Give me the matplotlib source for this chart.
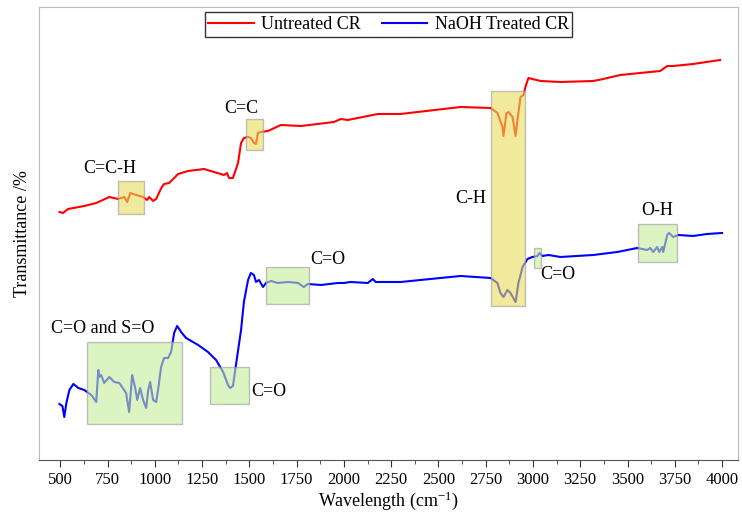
import matplotlib
matplotlib.use('Agg')
import matplotlib.pyplot as plt
from matplotlib.patches import Rectangle
from matplotlib.ticker import MultipleLocator

plt.rcParams['font.family'] = ['Liberation Serif', 'DejaVu Serif']
plt.rcParams['mathtext.fontset'] = 'custom'
plt.rcParams['mathtext.rm'] = 'Liberation Serif'
plt.rcParams['mathtext.default'] = 'regular'

# untreated CR (red)
wn_red = [496, 514, 541, 627, 690, 759, 806, 838, 854, 870, 901, 938, 959, 970, 991, 1007,
          1034, 1049, 1076, 1123, 1176, 1260, 1313, 1366, 1382, 1392, 1413, 1440, 1456, 1471,
          1493, 1508, 1524, 1535, 1545, 1561, 1598, 1667, 1772, 1862, 1947, 1984, 2021, 2073,
          2153, 2179, 2300, 2617, 2776, 2812, 2839, 2844, 2860, 2871, 2892, 2908, 2918, 2934,
          2950, 2960, 2976, 2997, 3040, 3145, 3319, 3372, 3462, 3568, 3620, 3673, 3710, 3742,
          3847, 3990]
t_red = [49.6, 49.4, 50.2, 50.8, 51.4, 52.6, 52.2, 52.6, 51.6, 53.4, 53.0, 52.6, 52.0, 52.6, 51.8, 52.2,
         54.4, 55.2, 55.4, 57.2, 57.8, 58.2, 57.6, 57.0, 57.4, 56.4, 56.4, 59.4, 63.4, 64.4,
         64.6, 64.4, 63.4, 63.2, 65.4, 65.6, 65.8, 67.0, 66.8, 67.2, 67.6, 68.2, 68.0, 68.4,
         69.0, 69.2, 69.2, 70.6, 70.4, 69.4, 66.6, 64.8, 69.4, 69.6, 68.6, 64.8, 68.0, 72.6,
         73.0, 74.6, 76.4, 76.2, 75.8, 75.6, 75.8, 76.2, 77.0, 77.4, 77.6, 77.8, 78.8, 78.8,
         79.2, 80.0]

# NaOH treated CR (blue)
wn_blue = [495, 511, 521, 532, 548, 569, 595, 627, 664, 690, 701, 706, 716, 732, 759, 785,
           812, 848, 864, 880, 896, 907, 922, 938, 954, 965, 975, 991, 1007, 1017, 1033, 1049,
           1070, 1086, 1102, 1118, 1139, 1165, 1229, 1281, 1324, 1361, 1387, 1398, 1413, 1429,
           1456, 1471, 1493, 1508, 1524, 1535, 1551, 1572, 1588, 1614, 1651, 1704, 1757, 1788,
           1809, 1878, 1968, 2000, 2036, 2126, 2153, 2168, 2300, 2617, 2776, 2812, 2828, 2844,
           2865, 2881, 2908, 2923, 2945, 2971, 2997, 3024, 3034, 3050, 3082, 3145, 3319, 3446,
           3552, 3604, 3620, 3636, 3657, 3668, 3684, 3689, 3710, 3720, 3742, 3768, 3847, 3921, 4000]
t_blue = [11.2, 10.8, 8.6, 11.4, 14.0, 15.2, 14.4, 14.0, 13.0, 11.6, 18.0, 16.6, 17.0, 15.4, 16.6, 15.6,
          15.4, 13.4, 9.6, 17.0, 14.4, 12.0, 14.4, 12.0, 10.4, 14.0, 15.6, 12.0, 11.6, 14.0, 18.6, 20.4,
          20.4, 21.6, 25.4, 26.8, 25.6, 24.4, 23.0, 21.6, 20.0, 17.6, 15.0, 14.4, 14.8, 19.0,
          26.0, 31.6, 36.0, 37.4, 37.0, 35.6, 36.0, 34.6, 35.4, 35.8, 35.4, 35.6, 35.4, 34.6,
          35.2, 35.0, 35.4, 35.4, 35.6, 35.4, 36.2, 35.6, 35.6, 36.8, 36.4, 35.4, 33.4, 32.6,
          34.0, 33.4, 31.6, 35.4, 38.6, 40.2, 40.6, 40.8, 41.4, 40.8, 41.0, 40.6, 41.0, 41.6,
          42.4, 42.0, 42.4, 41.6, 42.6, 41.6, 42.6, 41.6, 45.0, 45.4, 44.6, 45.0, 44.8, 45.2, 45.4]

# highlighted bands: (x0, x1, y0, y1)
yellow_boxes = [(806, 943, 49.2, 55.8), (1482, 1572, 62.0, 68.2), (2776, 2960, 30.8, 73.8)]
green_boxes = [(643, 1144, 7.2, 23.6), (1292, 1498, 11.2, 18.6), (1588, 1815, 31.2, 38.6),
               (3003, 3040, 38.4, 42.4), (3557, 3763, 39.6, 47.2)]

labels = ['C=C-H', 'C=C', 'C-H', 'O-H', 'C=O', 'C=O', 'C=O', 'C=O and S=O']
label_x = [759, 1456, 2670, 3657, 3129, 1915, 1603, 722]
label_y = [58.2, 70.2, 52.2, 49.8, 37.0, 40.0, 13.6, 26.3]

fig = plt.figure(figsize=(7.42, 5.18), dpi=100)
ax = fig.add_axes([0.053, 0.112, 0.9415, 0.8745])

ax.plot(wn_red, t_red, color='red', lw=1.5, label='Untreated CR')
ax.plot(wn_blue, t_blue, color='blue', lw=1.5, label='NaOH Treated CR')

for x0, x1, y0, y1 in yellow_boxes:
    ax.add_patch(Rectangle((x0, y0), x1 - x0, y1 - y0, facecolor='#e8dc5a', alpha=0.6,
                           edgecolor='#999999', lw=1, zorder=3))
for x0, x1, y0, y1 in green_boxes:
    ax.add_patch(Rectangle((x0, y0), x1 - x0, y1 - y0, facecolor='#c5ec9a', alpha=0.6,
                           edgecolor='#999999', lw=1, zorder=3))

for s, x, y in zip(labels, label_x, label_y):
    ax.text(x, y, s, fontsize=13, ha='center', va='center')

ax.set_xlim(389, 4084)
ax.set_ylim(0, 90.6)
ax.xaxis.set_major_locator(MultipleLocator(250))
ax.xaxis.set_minor_locator(MultipleLocator(125))
ax.tick_params(axis='x', which='major', direction='out', length=5, labelsize=12, colors='#333333')
ax.tick_params(axis='x', which='minor', direction='out', length=3, color='#333333')
ax.tick_params(axis='x', labelcolor='black')
ax.set_yticks([])
for sp in ax.spines.values():
    sp.set_color('#bbbbbb')
ax.spines['bottom'].set_color('#555555')

ax.set_xlabel('Wavelength (cm$^{-1}$)', fontsize=13, labelpad=1)
ax.set_ylabel('Transmittance /%', fontsize=13, labelpad=6)

leg = ax.legend(loc='upper center', ncol=2, fontsize=13, frameon=True, fancybox=False,
                edgecolor='black', borderaxespad=0.3, handlelength=2.5, columnspacing=1.2,
                borderpad=0.2, handletextpad=0.4)
leg.get_frame().set_linewidth(1.0)

fig.savefig('out.png', dpi=100)
